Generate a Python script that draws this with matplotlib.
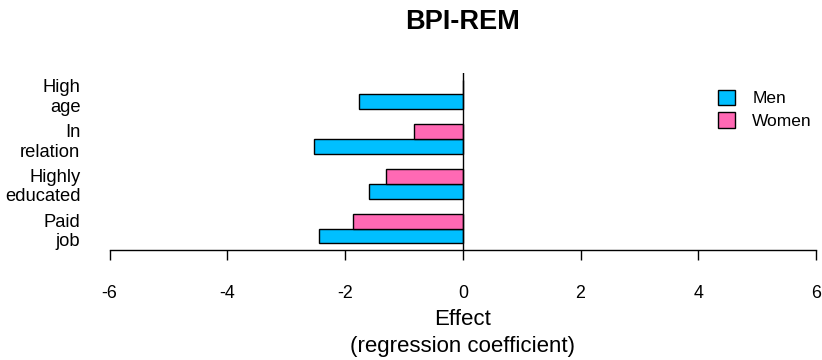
import numpy as np
import matplotlib
matplotlib.use("Agg")
from matplotlib import pyplot as plt

# Regression coefficients per predictor (top to bottom as displayed)
categories = ["High\nage", "In\nrelation", "Highly\neducated", "Paid\njob"]
men = [-1.76, -2.52, -1.59, -2.45]
women = [0.0, -0.83, -1.31, -1.86]
xticks = [-6, -4, -2, 0, 2, 4, 6]

plt.rcParams["font.family"] = ["Liberation Sans", "DejaVu Sans"]

fig = plt.figure(figsize=(8.22, 3.6), dpi=100)
W, H = 822, 360
left, right = 109.6, 816.0
top, bottom = 73.0, 250.0
ax = fig.add_axes([left / W, 1 - bottom / H, (right - left) / W, (bottom - top) / H])

# bars stacked R-style: bottom group first, men below women, one bar gap between groups
n = len(categories)
rev_men = men[::-1]
rev_women = women[::-1]
base = 1 + 3 * np.arange(n)
ax.barh(base + 0.5, rev_men, height=1.0, color="#00BFFF", edgecolor="black",
        linewidth=1.0, label="Men")
ax.barh(base + 1.5, rev_women, height=1.0, color="#FF69B4", edgecolor="black",
        linewidth=1.0, label="Women")

ax.axvline(0, color="black", linewidth=1.0)

ax.set_xlim(-6, 6)
ax.set_ylim(0.56, 12.44)

ax.set_xticks(xticks)
ax.set_xticklabels([str(t) for t in xticks], fontsize=12.8)
ax.tick_params(axis="x", direction="out", length=7.2, width=1.0, pad=18)

ax.set_yticks(base + 1)
ax.set_yticklabels(categories[::-1], fontsize=13.2, linespacing=1.2)
ax.tick_params(axis="y", length=0, pad=21)

for s in ["top", "right", "left"]:
    ax.spines[s].set_visible(False)
ax.spines["bottom"].set_linewidth(1.0)

ax.set_xlabel("Effect\n(regression coefficient)", fontsize=16, linespacing=1.4, labelpad=5)

fig.text(462.5 / W, 1 - 22 / H, "BPI-REM", ha="center", va="center",
         fontsize=19.5, fontweight="bold")

handles, labels = ax.get_legend_handles_labels()
fig.legend(handles, labels, loc="upper left", bbox_to_anchor=(702 / W, 1 - 74 / H),
           frameon=False, fontsize=12.5, handlelength=1.0, handleheight=1.0,
           handletextpad=1.0, labelspacing=0.35)

fig.savefig("out.png", dpi=100)
